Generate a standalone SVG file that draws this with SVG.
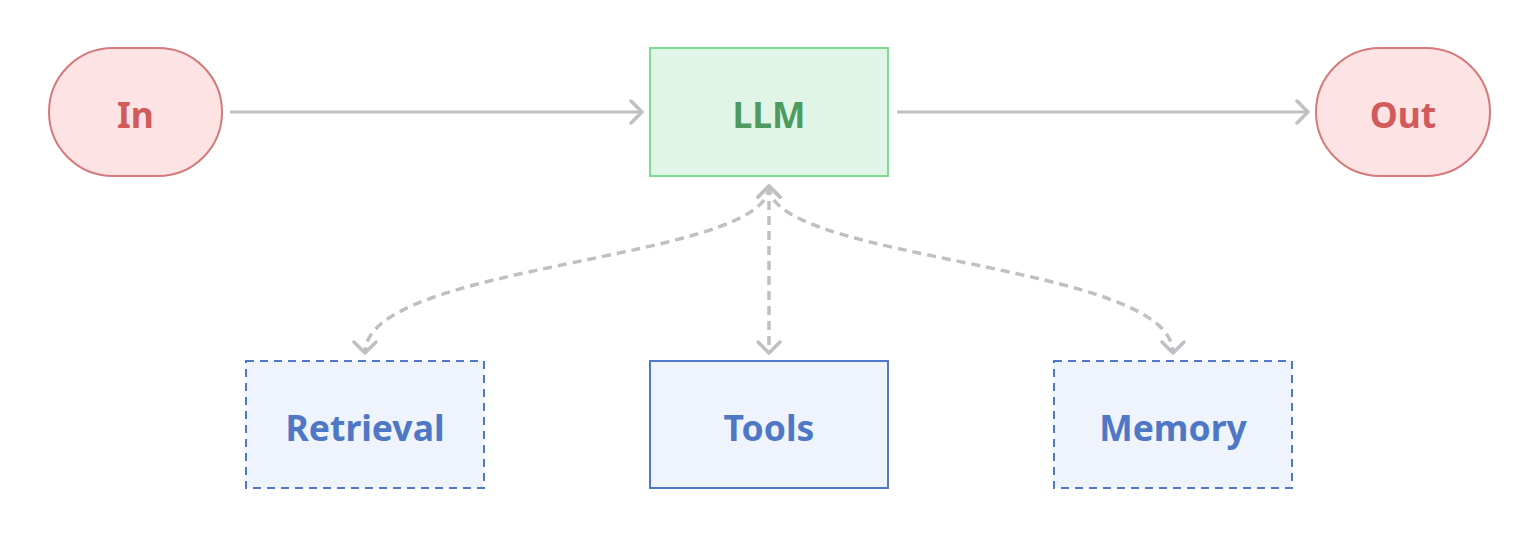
<svg xmlns="http://www.w3.org/2000/svg" width="1540" height="538" viewBox="0 0 1540 538">
<style>
text{font-family:"Noto Sans","Open Sans",sans-serif;font-weight:bold;font-size:35.5px;text-anchor:middle;dominant-baseline:central}
.term{fill:#fde3e3;stroke:#d47a7a;stroke-width:2}
.term-t{fill:#d15b5b}
.llm{fill:#e0f5e6;stroke:#7ddc92;stroke-width:2}
.llm-t{fill:#4e9a5f}
.aux{fill:#eff4fc;stroke:#5078c8;stroke-width:2}
.aux-d{stroke-dasharray:8 6}
.aux-t{fill:#4e78c6}
.edge{fill:none;stroke:#bec0c4;stroke-width:3.2}
.dash{stroke-width:3.5;stroke-dasharray:9 6}
</style>
<defs>
<marker id="arr" viewBox="0 0 24 26" refX="19" refY="13" markerWidth="24" markerHeight="26" markerUnits="userSpaceOnUse" orient="auto-start-reverse">
<path d="M8,2 L19,13 L8,24" fill="none" stroke="#bec0c4" stroke-width="3.5" stroke-linecap="round" stroke-linejoin="round"/>
</marker>
</defs>
<rect width="1540" height="538" fill="#ffffff"/>
<g id="connectors">
<path class="edge" d="M230,112 L642,112" marker-end="url(#arr)"/>
<path class="edge" d="M897,112 L1308,112" marker-end="url(#arr)"/>
<path class="edge dash" d="M769,186 C769,262 365,262 365,353" marker-start="url(#arr)" marker-end="url(#arr)"/>
<path class="edge dash" d="M769,186 L769,353" marker-start="url(#arr)" marker-end="url(#arr)"/>
<path class="edge dash" d="M769,186 C769,262 1173,262 1173,353" marker-start="url(#arr)" marker-end="url(#arr)"/>
</g>
<g id="node-in">
<rect class="term" x="49" y="48" width="173" height="128" rx="64" ry="64"/>
<text class="term-t" x="135.5" y="114">In</text>
</g>
<g id="node-llm">
<rect class="llm" x="650" y="48" width="238" height="128"/>
<text class="llm-t" x="769" y="114">LLM</text>
</g>
<g id="node-out">
<rect class="term" x="1316" y="48" width="174" height="128" rx="64" ry="64"/>
<text class="term-t" x="1403" y="114">Out</text>
</g>
<g id="node-retrieval">
<rect class="aux aux-d" x="246" y="361" width="238" height="127"/>
<text class="aux-t" x="365" y="427">Retrieval</text>
</g>
<g id="node-tools">
<rect class="aux" x="650" y="361" width="238" height="127"/>
<text class="aux-t" x="769" y="427">Tools</text>
</g>
<g id="node-memory">
<rect class="aux aux-d" x="1054" y="361" width="238" height="127"/>
<text class="aux-t" x="1173" y="427">Memory</text>
</g>
</svg>
